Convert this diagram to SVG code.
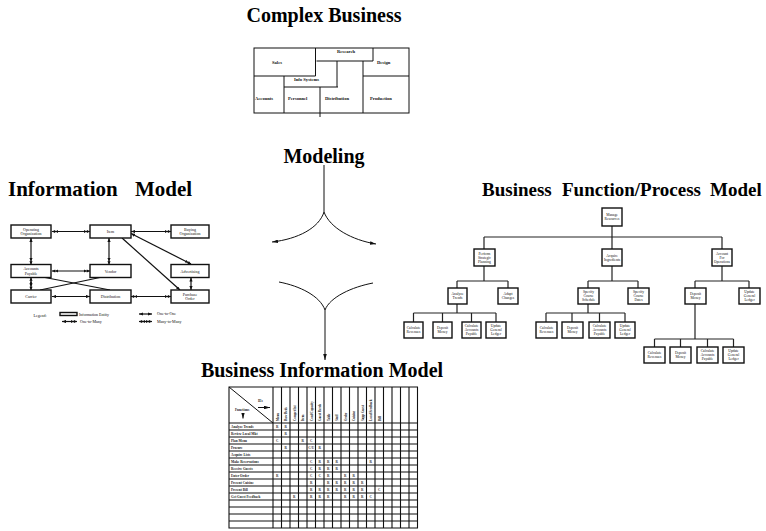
<svg xmlns="http://www.w3.org/2000/svg" width="766" height="531" viewBox="0 0 766 531">
<style>
  .title{font-family:"Liberation Serif",serif;font-weight:bold;font-size:20px;fill:#000;white-space:pre}
  .ln{stroke:#111;stroke-width:1;fill:none}
  .cb{font-family:"Liberation Serif",serif;font-weight:bold;font-size:4.6px;fill:#111}
  .ent{fill:#fff;stroke:#111;stroke-width:1.4}
  .et{font-family:"Liberation Serif",serif;font-size:4px;fill:#111;text-anchor:middle}
  .con{stroke:#111;stroke-width:1.2;fill:none}
  .fb{fill:#fff;stroke:#111;stroke-width:1.4}
  .ft{font-family:"Liberation Serif",serif;font-size:3.6px;fill:#111;text-anchor:middle}
  .tree{stroke:#222;stroke-width:1.2;fill:none}
  .grid{stroke:#111;stroke-width:1.1;fill:none}
  .rl{font-family:"Liberation Serif",serif;font-weight:bold;font-size:3.4px;fill:#222}
  .ch{font-family:"Liberation Serif",serif;font-weight:bold;font-size:3.2px;fill:#222}
  .mk{font-family:"Liberation Serif",serif;font-weight:bold;font-size:3.4px;fill:#333;text-anchor:middle}
  .arr{stroke:#111;stroke-width:1;fill:none}
</style>
<defs>
  <marker id="tip" viewBox="0 0 10 6" refX="10" refY="3" markerWidth="6" markerHeight="3.6" markerUnits="userSpaceOnUse" orient="auto">
    <path d="M0,0 L10,3 L0,6 z" fill="#111"/>
  </marker>
  <marker id="one" viewBox="0 0 10 8" refX="10" refY="4" markerWidth="4" markerHeight="3.2" markerUnits="userSpaceOnUse" orient="auto-start-reverse">
    <path d="M0,0 L10,4 L0,8 z" fill="#111"/>
  </marker>
  <marker id="many" viewBox="0 0 16 8" refX="16" refY="4" markerWidth="6.4" markerHeight="3.2" markerUnits="userSpaceOnUse" orient="auto-start-reverse">
    <path d="M0,0 L8,4 L0,8 z M8,0 L16,4 L8,8 z" fill="#111"/>
  </marker>
</defs>

<!-- Section titles -->
<text class="title" x="324" y="22" text-anchor="middle">Complex Business</text>
<text class="title" x="324" y="163" text-anchor="middle">Modeling</text>
<text class="title" y="196" style="font-size:21px"><tspan x="8">Information</tspan><tspan x="135">Model</tspan></text>
<text class="title" y="196" style="font-size:19px"><tspan x="482">Business</tspan><tspan x="562">Function/Process</tspan><tspan x="710">Model</tspan></text>
<text class="title" x="322" y="377" text-anchor="middle">Business Information Model</text>

<!-- Floor plan of the business -->
<g id="complex-business">
  <rect class="ln" x="254" y="48" width="155" height="65"/>
  <path class="ln" d="M315.5,48 V76 M254,76 H315.5 M316.5,61 H373 V48 M337,61 V87 M284,87 H338 M284,76 V113 M320,87 V117 M363,61 V113 M363,76 H409"/>
  <text class="cb" x="337" y="52.5">Research</text>
  <text class="cb" x="272" y="63.5">Sales</text>
  <text class="cb" x="377" y="63.5">Design</text>
  <text class="cb" x="294" y="81">Info Systems</text>
  <text class="cb" x="255" y="99.5">Accounts</text>
  <text class="cb" x="288" y="99.5">Personnel</text>
  <text class="cb" x="325" y="99.5">Distribution</text>
  <text class="cb" x="370" y="99.5">Production</text>
</g>

<!-- Modeling flow arrows -->
<g id="connectors">
  <path class="arr" d="M324,165 V212"/>
  <path class="arr" d="M324,212 C319,228 298,239 272,242" marker-end="url(#tip)"/>
  <path class="arr" d="M324,212 C330,228 352,240 376,244" marker-end="url(#tip)"/>
  <path class="arr" d="M279,282 C300,286 320,296 325,310"/>
  <path class="arr" d="M373,283 C352,287 330,297 325,310"/>
  <path class="arr" d="M325,310 V360" marker-end="url(#tip)"/>

  <!-- information model relationships -->
  <path class="con" d="M52,231.5 H90" marker-start="url(#many)" marker-end="url(#many)"/>
  <path class="con" d="M131,231.5 H171" marker-start="url(#one)" marker-end="url(#many)"/>
  <path class="con" d="M31,238 V264.5" marker-start="url(#one)" marker-end="url(#many)"/>
  <path class="con" d="M31,277.5 V290" marker-start="url(#many)" marker-end="url(#many)"/>
  <path class="con" d="M52,271 H90" marker-start="url(#many)" marker-end="url(#many)"/>
  <path class="con" d="M109,238 V264.5" marker-start="url(#one)" marker-end="url(#many)"/>
  <path class="con" d="M131,233.5 L191,264" marker-start="url(#one)" marker-end="url(#many)"/>
  <path class="con" d="M122,238 L180,290" marker-end="url(#one)"/>
  <path class="con" d="M191,277.5 V290" marker-start="url(#one)" marker-end="url(#one)"/>
  <path class="con" d="M52,296.5 H90" marker-start="url(#one)" marker-end="url(#one)"/>
  <path class="con" d="M131,296.5 H171" marker-start="url(#many)" marker-end="url(#many)"/>
  <path class="con" d="M45,277.5 L110,290"/>
  <path class="con" d="M40,290 L100,277.5"/>

  <!-- function hierarchy links -->
  <path class="tree" d="M612,226 V237 M484,237 H722 M484,237 V249 M612,237 V249 M722,237 V249"/>
  <path class="tree" d="M484,266 V281 M457,281 H508 M457,281 V288 M508,281 V288"/>
  <path class="tree" d="M612,266 V281 M588,281 H638 M588,281 V288 M638,281 V288"/>
  <path class="tree" d="M722,266 V281 M695,281 H749 M695,281 V288 M749,281 V288"/>
  <path class="tree" d="M457,304 V313 M413.5,313 H496 M413.5,313 V322 M442.5,313 V322 M471.5,313 V322 M496,313 V322"/>
  <path class="tree" d="M588,304 V313 M546,313 H625 M546,313 V322 M572,313 V322 M599.5,313 V322 M625,313 V322"/>
  <path class="tree" d="M695,304 V339 M654.5,339 H733.5 M654.5,339 V347 M680.5,339 V347 M707.5,339 V347 M733.5,339 V347"/>
</g>

<!-- Information model entities -->
<g id="operating-organization"><rect class="ent" x="11" y="225" width="40" height="13"/><text class="et" x="31" y="230.5">Operating</text><text class="et" x="31" y="235">Organization</text></g>
<g id="item"><rect class="ent" x="90" y="225" width="41" height="13"/><text class="et" x="110.5" y="233">Item</text></g>
<g id="buying-organization"><rect class="ent" x="171" y="225" width="38" height="13"/><text class="et" x="190" y="230.5">Buying</text><text class="et" x="190" y="235">Organization</text></g>
<g id="accounts-payable"><rect class="ent" x="11" y="264.5" width="40" height="13"/><text class="et" x="31" y="270">Accounts</text><text class="et" x="31" y="274.5">Payable</text></g>
<g id="vendor"><rect class="ent" x="90" y="264.5" width="41" height="13"/><text class="et" x="110.5" y="272.5">Vendor</text></g>
<g id="advertising"><rect class="ent" x="171" y="264.5" width="38" height="13"/><text class="et" x="190" y="272.5">Advertising</text></g>
<g id="carrier"><rect class="ent" x="11" y="290" width="40" height="13"/><text class="et" x="31" y="298">Carrier</text></g>
<g id="distribution"><rect class="ent" x="90" y="290" width="41" height="13"/><text class="et" x="110.5" y="298">Distribution</text></g>
<g id="purchase-order"><rect class="ent" x="171" y="290" width="38" height="13"/><text class="et" x="190" y="295.5">Purchase</text><text class="et" x="190" y="300">Order</text></g>

<!-- Legend -->
<g id="legend">
  <text class="et" x="40" y="316.5">Legend:</text>
  <rect class="ent" x="60" y="312.5" width="17" height="3"/>
  <text class="et" x="79" y="315.5" style="text-anchor:start">Information Entity</text>
  <path class="con" d="M62,321.5 H77" marker-start="url(#one)" marker-end="url(#many)"/>
  <text class="et" x="80" y="322.5" style="text-anchor:start">One-to-Many</text>
  <path class="con" d="M139,314 H152" marker-start="url(#one)" marker-end="url(#one)"/>
  <text class="et" x="157" y="315" style="text-anchor:start">One-to-One</text>
  <path class="con" d="M139,321.5 H152" marker-start="url(#many)" marker-end="url(#many)"/>
  <text class="et" x="157" y="322.5" style="text-anchor:start">Many-to-Many</text>
</g>

<!-- Function hierarchy -->
<g id="manage-resources"><rect class="fb" x="602" y="208" width="20" height="18"/><text class="ft" x="612" y="215.5">Manage</text><text class="ft" x="612" y="219.5">Resources</text></g>
<g id="perform-strategic-planning"><rect class="fb" x="474" y="249" width="21" height="17"/><text class="ft" x="484.5" y="254.5">Perform</text><text class="ft" x="484.5" y="258.5">Strategic</text><text class="ft" x="484.5" y="262.5">Planning</text></g>
<g id="acquire-ingredients"><rect class="fb" x="602" y="249" width="20" height="17"/><text class="ft" x="612" y="256.5">Acquire</text><text class="ft" x="612" y="260.5">Ingredients</text></g>
<g id="account-for-operations"><rect class="fb" x="712" y="249" width="20" height="17"/><text class="ft" x="722" y="254.5">Account</text><text class="ft" x="722" y="258.5">For</text><text class="ft" x="722" y="262.5">Operations</text></g>

<g id="analyze-trends"><rect class="fb" x="448" y="288" width="19" height="16"/><text class="ft" x="457.5" y="295">Analyze</text><text class="ft" x="457.5" y="299">Trends</text></g>
<g id="adapt-changes"><rect class="fb" x="498" y="288" width="20" height="16"/><text class="ft" x="508" y="295">Adapt</text><text class="ft" x="508" y="299">Changes</text></g>
<g id="specify-course-schedule"><rect class="fb" x="578" y="288" width="21" height="16"/><text class="ft" x="588.5" y="293">Specify</text><text class="ft" x="588.5" y="297">Course</text><text class="ft" x="588.5" y="301">Schedule</text></g>
<g id="specify-course-dates"><rect class="fb" x="628" y="288" width="21" height="16"/><text class="ft" x="638.5" y="293">Specify</text><text class="ft" x="638.5" y="297">Course</text><text class="ft" x="638.5" y="301">Dates</text></g>
<g id="deposit-money"><rect class="fb" x="685" y="288" width="21" height="16"/><text class="ft" x="695.5" y="295">Deposit</text><text class="ft" x="695.5" y="299">Money</text></g>
<g id="update-general-ledger"><rect class="fb" x="739" y="288" width="21" height="16"/><text class="ft" x="749.5" y="293">Update</text><text class="ft" x="749.5" y="297">General</text><text class="ft" x="749.5" y="301">Ledger</text></g>

<g id="at-calculate-revenues"><rect class="fb" x="404" y="322" width="19" height="16"/><text class="ft" x="413.5" y="329">Calculate</text><text class="ft" x="413.5" y="333">Revenues</text></g>
<g id="at-deposit-money"><rect class="fb" x="433" y="322" width="19" height="16"/><text class="ft" x="442.5" y="329">Deposit</text><text class="ft" x="442.5" y="333">Money</text></g>
<g id="at-calculate-accounts-payable"><rect class="fb" x="462" y="322" width="19" height="16"/><text class="ft" x="471.5" y="327">Calculate</text><text class="ft" x="471.5" y="331">Accounts</text><text class="ft" x="471.5" y="335">Payable</text></g>
<g id="at-update-general-ledger"><rect class="fb" x="486" y="322" width="20" height="16"/><text class="ft" x="496" y="327">Update</text><text class="ft" x="496" y="331">General</text><text class="ft" x="496" y="335">Ledger</text></g>

<g id="cs-calculate-revenues"><rect class="fb" x="536" y="322" width="21" height="16"/><text class="ft" x="546.5" y="329">Calculate</text><text class="ft" x="546.5" y="333">Revenues</text></g>
<g id="cs-deposit-money"><rect class="fb" x="562" y="322" width="21" height="16"/><text class="ft" x="572.5" y="329">Deposit</text><text class="ft" x="572.5" y="333">Money</text></g>
<g id="cs-calculate-accounts-payable"><rect class="fb" x="589" y="322" width="21" height="16"/><text class="ft" x="599.5" y="327">Calculate</text><text class="ft" x="599.5" y="331">Accounts</text><text class="ft" x="599.5" y="335">Payable</text></g>
<g id="cs-update-general-ledger"><rect class="fb" x="615" y="322" width="20" height="16"/><text class="ft" x="625" y="327">Update</text><text class="ft" x="625" y="331">General</text><text class="ft" x="625" y="335">Ledger</text></g>

<g id="dm-calculate-revenues"><rect class="fb" x="644" y="347" width="21" height="16"/><text class="ft" x="654.5" y="354">Calculate</text><text class="ft" x="654.5" y="358">Revenues</text></g>
<g id="dm-deposit-money"><rect class="fb" x="670" y="347" width="21" height="16"/><text class="ft" x="680.5" y="354">Deposit</text><text class="ft" x="680.5" y="358">Money</text></g>
<g id="dm-calculate-accounts-payable"><rect class="fb" x="697" y="347" width="21" height="16"/><text class="ft" x="707.5" y="352">Calculate</text><text class="ft" x="707.5" y="356">Accounts</text><text class="ft" x="707.5" y="360">Payable</text></g>
<g id="dm-update-general-ledger"><rect class="fb" x="723" y="347" width="21" height="16"/><text class="ft" x="733.5" y="352">Update</text><text class="ft" x="733.5" y="356">General</text><text class="ft" x="733.5" y="360">Ledger</text></g>

<!-- Function / information-entity matrix -->
<g id="matrix">
  <path class="grid" d="M229,387 H417.5 V528 H229 Z M273,387 V528 M229,423 H417.5"/>
  <path class="grid" d="M281.5,387V528 M290,387V528 M298.5,387V528 M307,387V528 M315.5,387V528 M324,387V528 M332.5,387V528 M341,387V528 M349.5,387V528 M358,387V528 M366.5,387V528 M375,387V528 M383.5,387V528 M392,387V528 M400.5,387V528 M409,387V528"/>
  <path class="grid" d="M229,430H417.5 M229,437H417.5 M229,444H417.5 M229,451H417.5 M229,458H417.5 M229,465H417.5 M229,472H417.5 M229,479H417.5 M229,486H417.5 M229,493H417.5 M229,500H417.5 M229,507H417.5 M229,514H417.5 M229,521H417.5"/>
  <path class="ln" d="M229,387 L273,423"/>
  <text class="rl" x="258" y="402">IEs</text>
  <path class="arr" d="M258,407.5 H270" marker-end="url(#tip)"/>
  <text class="rl" x="235" y="411">Functions</text>
  <path class="arr" d="M243,413 V418.5" marker-end="url(#tip)"/>

  <g transform="rotate(-90)">
    <text class="ch" x="-421" y="278.5">Menu</text>
    <text class="ch" x="-421" y="287">Raw Rcds</text>
    <text class="ch" x="-421" y="295.5">Compet list</text>
    <text class="ch" x="-421" y="304">Item</text>
    <text class="ch" x="-421" y="312.5">Conf/Capacity</text>
    <text class="ch" x="-421" y="321">Guest Rcrds</text>
    <text class="ch" x="-421" y="329.5">Table</text>
    <text class="ch" x="-421" y="338">Staff</text>
    <text class="ch" x="-421" y="346.5">Order</text>
    <text class="ch" x="-421" y="355">Cuisine</text>
    <text class="ch" x="-421" y="363.5">Supp Guest</text>
    <text class="ch" x="-421" y="372">Local Feedback</text>
    <text class="ch" x="-421" y="380.5">Bill</text>
  </g>

  <text class="rl" x="231" y="428">Analyze Trends</text>
  <text class="rl" x="231" y="435">Review Local Mkt</text>
  <text class="rl" x="231" y="442">Plan Menu</text>
  <text class="rl" x="231" y="449">Procure</text>
  <text class="rl" x="231" y="456">Acquire Lists</text>
  <text class="rl" x="231" y="463">Make Reservations</text>
  <text class="rl" x="231" y="470">Receive Guests</text>
  <text class="rl" x="231" y="477">Enter Order</text>
  <text class="rl" x="231" y="484">Present Cuisine</text>
  <text class="rl" x="231" y="491">Present Bill</text>
  <text class="rl" x="231" y="498">Get Guest Feedback</text>

  <!-- cell entries: column centre = 277.25 + 8.5*(n-1) -->
  <text class="mk" x="277.25" y="428">R</text><text class="mk" x="285.75" y="428">R</text>
  <text class="mk" x="285.75" y="435">R</text>
  <text class="mk" x="277.25" y="442">C</text><text class="mk" x="302.75" y="442">R</text><text class="mk" x="311.25" y="442">C</text>
  <text class="mk" x="285.75" y="449">R</text><text class="mk" x="311.25" y="449">C/U</text><text class="mk" x="319.75" y="449">R</text>
  <text class="mk" x="311.25" y="463">C</text><text class="mk" x="319.75" y="463">R</text><text class="mk" x="328.25" y="463">R</text><text class="mk" x="336.75" y="463">R</text><text class="mk" x="370.75" y="463">R</text>
  <text class="mk" x="311.25" y="470">C</text><text class="mk" x="319.75" y="470">R</text><text class="mk" x="328.25" y="470">R</text><text class="mk" x="336.75" y="470">R</text>
  <text class="mk" x="277.25" y="477">R</text><text class="mk" x="311.25" y="477">C</text><text class="mk" x="319.75" y="477">C</text><text class="mk" x="328.25" y="477">R</text><text class="mk" x="345.25" y="477">R</text><text class="mk" x="353.75" y="477">R</text>
  <text class="mk" x="311.25" y="484">R</text><text class="mk" x="328.25" y="484">R</text><text class="mk" x="336.75" y="484">R</text><text class="mk" x="345.25" y="484">R</text><text class="mk" x="353.75" y="484">R</text><text class="mk" x="362.25" y="484">R</text>
  <text class="mk" x="311.25" y="491">R</text><text class="mk" x="319.75" y="491">R</text><text class="mk" x="328.25" y="491">R</text><text class="mk" x="336.75" y="491">R</text><text class="mk" x="345.25" y="491">R</text><text class="mk" x="353.75" y="491">R</text><text class="mk" x="362.25" y="491">R</text><text class="mk" x="379.25" y="491">C</text>
  <text class="mk" x="294.25" y="498">R</text><text class="mk" x="311.25" y="498">R</text><text class="mk" x="319.75" y="498">R</text><text class="mk" x="328.25" y="498">R</text><text class="mk" x="345.25" y="498">R</text><text class="mk" x="353.75" y="498">R</text><text class="mk" x="362.25" y="498">R</text><text class="mk" x="370.75" y="498">C</text>
</g>
</svg>
